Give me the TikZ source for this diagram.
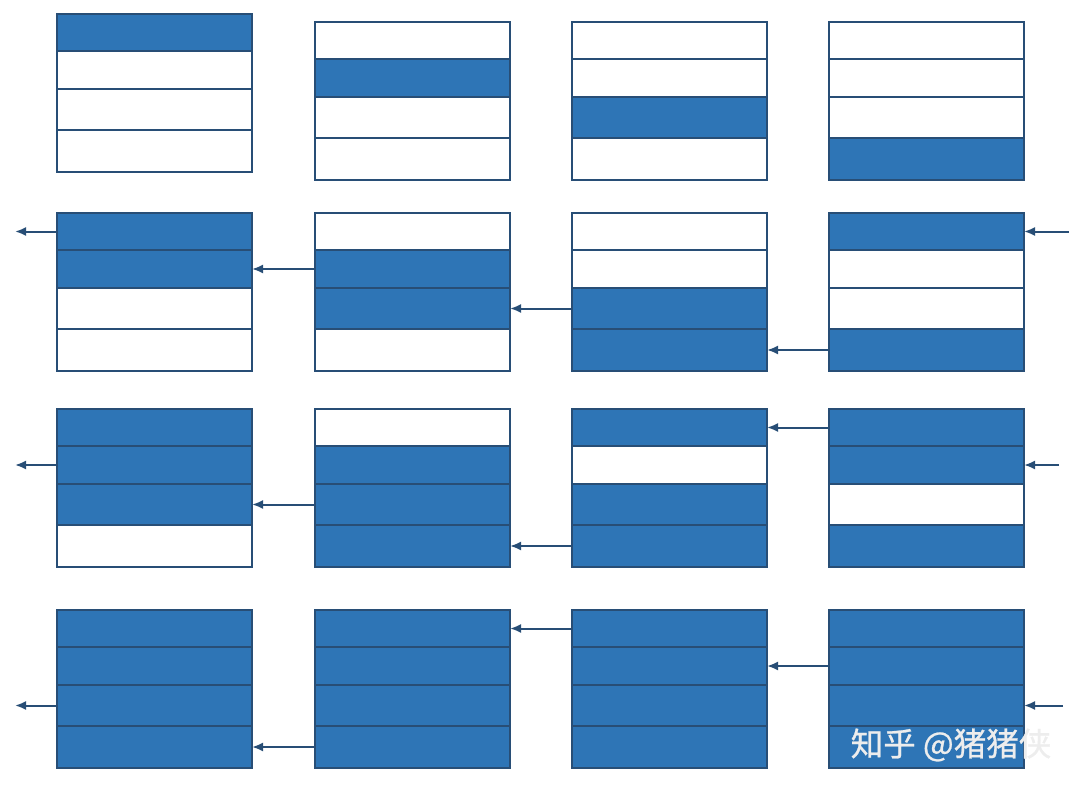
\documentclass[tikz,border=0pt]{standalone}
\usepackage{fontspec}
\newfontfamily\cjkfont[FakeBold=0.8]{Noto Sans CJK SC}
\usetikzlibrary{arrows.meta, positioning}
\definecolor{cellblue}{RGB}{46,117,182}
\definecolor{edgeblue}{RGB}{40,78,118}
\tikzset{
x=1pt, y=-1pt,
>={Latex[length=11pt,width=9pt]},
slot/.style={%
    rectangle,
    minimum width=195pt,
    minimum height=#1,
    inner sep=0pt, outer sep=0pt,
    line width=1.9pt,
    draw=edgeblue,
},
slot/.default=37pt,
busy/.style={fill=cellblue},
idle/.style={fill=white},
link/.style={->, line width=2pt, draw=edgeblue},
wmtext/.style={%
    text=white!93!black,
    font=\cjkfont\fontsize{32.5}{32.5}\selectfont
},
}
% one block of four slots: name, left, top, styles of the slots
\newcommand{\bank}[7]{%
  \node[slot=37pt, #4, anchor=north west] (#1-1) at (#2,#3) {};
  \node[slot=38pt, #5, below=0pt of #1-1] (#1-2) {};
  \node[slot=41pt, #6, below=0pt of #1-2] (#1-3) {};
  \node[slot=42pt, #7, below=0pt of #1-3] (#1-4) {};
}

\begin{document}
\begin{tikzpicture}
	\useasboundingbox (0,0) rectangle (1080,792);

	% row 1
	\bank{b11}{57}{14}{busy}{idle}{idle}{idle}
	\bank{b12}{315}{22}{idle}{busy}{idle}{idle}
	\bank{b13}{572}{22}{idle}{idle}{busy}{idle}
	\bank{b14}{829}{22}{idle}{idle}{idle}{busy}
	% row 2
	\bank{b21}{57}{213}{busy}{busy}{idle}{idle}
	\bank{b22}{315}{213}{idle}{busy}{busy}{idle}
	\bank{b23}{572}{213}{idle}{idle}{busy}{busy}
	\bank{b24}{829}{213}{busy}{idle}{idle}{busy}
	% row 3
	\bank{b31}{57}{409}{busy}{busy}{busy}{idle}
	\bank{b32}{315}{409}{idle}{busy}{busy}{busy}
	\bank{b33}{572}{409}{busy}{idle}{busy}{busy}
	\bank{b34}{829}{409}{busy}{busy}{idle}{busy}
	% row 4
	\bank{b41}{57}{610}{busy}{busy}{busy}{busy}
	\bank{b42}{315}{610}{busy}{busy}{busy}{busy}
	\bank{b43}{572}{610}{busy}{busy}{busy}{busy}
	\bank{b44}{829}{610}{busy}{busy}{busy}{busy}

	% free ends
	\coordinate[left=42pt of b21-1.west] (out2);
	\coordinate[left=42pt of b31-2.west] (out3);
	\coordinate[left=42pt of b41-3.west] (out4);
	\coordinate[right=45pt of b24-1.east] (in2);
	\coordinate[right=35pt of b34-2.east] (in3);
	\coordinate[right=39pt of b44-3.east] (in4);

	\draw[link] (in2) -- (b24-1.east);
	\draw[link] (b24-4.west) -- (b23-4.east);
	\draw[link] (b23-3.west) -- (b22-3.east);
	\draw[link] (b22-2.west) -- (b21-2.east);
	\draw[link] (b21-1.west) -- (out2);

	\draw[link] (in3) -- (b34-2.east);
	\draw[link] (b34-1.west) -- (b33-1.east);
	\draw[link] (b33-4.west) -- (b32-4.east);
	\draw[link] (b32-3.west) -- (b31-3.east);
	\draw[link] (b31-2.west) -- (out3);

	\draw[link] (in4) -- (b44-3.east);
	\draw[link] (b44-2.west) -- (b43-2.east);
	\draw[link] (b43-1.west) -- (b42-1.east);
	\draw[link] (b42-4.west) -- (b41-4.east);
	\draw[link] (b41-3.west) -- (out4);

	\node[wmtext] (wm) at (951,745) {知乎 @猪猪侠};
\end{tikzpicture}
\end{document}
